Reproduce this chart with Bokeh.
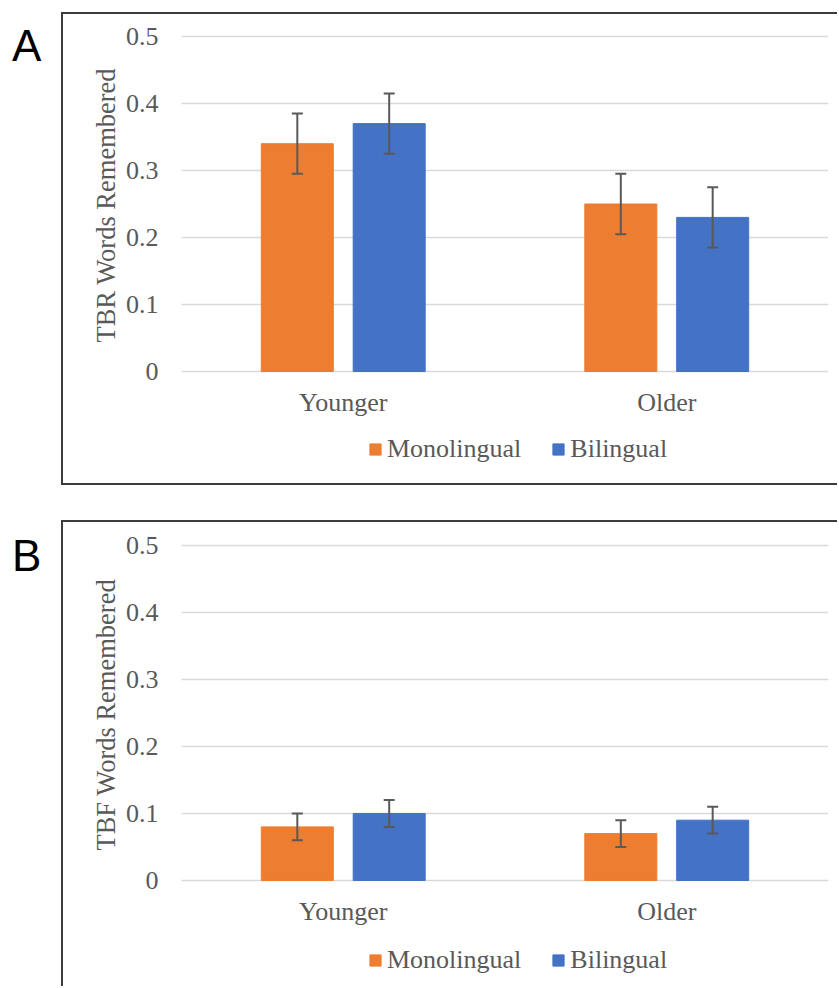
from bokeh.plotting import figure
from bokeh.models import (ColumnDataSource, Range1d, FactorRange, FixedTicker, Legend,
                          LegendItem, Whisker, TeeHead, Div, Title)
from bokeh.transform import dodge
from bokeh.layouts import row, column
from bokeh.embed import file_html
from bokeh.resources import INLINE

# ---- data ----
groups = ["Younger", "Older"]
series = ["Monolingual", "Bilingual"]
y_ticks = [0, 0.1, 0.2, 0.3, 0.4, 0.5]
y_tick_labels = ["0", "0.1", "0.2", "0.3", "0.4", "0.5"]

tbr_mono = [0.34, 0.25]
tbr_mono_err = [0.045, 0.045]
tbr_bi = [0.37, 0.23]
tbr_bi_err = [0.045, 0.045]

tbf_mono = [0.08, 0.07]
tbf_mono_err = [0.02, 0.02]
tbf_bi = [0.10, 0.09]
tbf_bi_err = [0.02, 0.02]

ORANGE = "#ED7D31"
BLUE = "#4472C4"
TXT = "#595959"
SERIF = "Liberation Serif"
BORDER = "2px solid #3c3c3c"


def make_panel(ytitle, mono, mono_err, bi, bi_err, canvas_h, min_top, min_bottom,
               y_lo, legend_vy, title_offset, styles):
    src = ColumnDataSource(dict(
        group=groups,
        mono=mono, bi=bi,
        mono_lo=[v - e for v, e in zip(mono, mono_err)],
        mono_hi=[v + e for v, e in zip(mono, mono_err)],
        bi_lo=[v - e for v, e in zip(bi, bi_err)],
        bi_hi=[v + e for v, e in zip(bi, bi_err)],
    ))
    p = figure(x_range=FactorRange(factors=groups), y_range=Range1d(y_lo, 0.503),
               width=776, height=canvas_h, output_backend="svg", toolbar_location=None,
               min_border_left=118, min_border_right=11, min_border_top=min_top,
               min_border_bottom=min_bottom)
    p.styles = styles
    p.outline_line_color = None
    p.background_fill_color = "white"
    p.border_fill_color = "white"

    off = 0.142
    bw = 0.2226
    r1 = p.vbar(x=dodge("group", -off, range=p.x_range), top="mono", width=bw, source=src,
                fill_color=ORANGE, line_color=ORANGE)
    r2 = p.vbar(x=dodge("group", off, range=p.x_range), top="bi", width=bw, source=src,
                fill_color=BLUE, line_color=BLUE)

    for col, o in (("mono", -off), ("bi", off)):
        w = Whisker(base=dodge("group", o, range=p.x_range), upper=col + "_hi",
                    lower=col + "_lo", source=src, line_color="#595959", line_width=2,
                    level="overlay",
                    upper_head=TeeHead(size=11, line_color="#595959", line_width=2),
                    lower_head=TeeHead(size=11, line_color="#595959", line_width=2))
        p.add_layout(w)

    # grid
    p.xgrid.grid_line_color = None
    p.ygrid.grid_line_color = "#d9d9d9"
    p.ygrid.grid_line_width = 1.4

    # y axis
    p.yaxis.ticker = FixedTicker(ticks=y_ticks)
    p.yaxis.major_label_overrides = {t: l for t, l in zip(y_ticks, y_tick_labels)}
    p.yaxis.axis_line_color = None
    p.yaxis.major_tick_line_color = None
    p.yaxis.minor_tick_line_color = None
    p.yaxis.major_tick_out = 0
    p.yaxis.major_tick_in = 0
    p.yaxis.major_label_standoff = 23
    p.yaxis.major_label_text_font = SERIF
    p.yaxis.major_label_text_font_size = "26px"
    p.yaxis.major_label_text_color = TXT

    # y axis title (placed along the 0..0.5 part of the frame)
    t = Title(text=ytitle, align="left", offset=title_offset, standoff=4,
              text_font=SERIF, text_font_size="26.5px", text_font_style="normal",
              text_color=TXT)
    p.add_layout(t, "left")

    # x axis sits at y = 0
    p.xaxis.fixed_location = 0
    p.xaxis.axis_line_color = None
    p.xaxis.major_tick_line_color = None
    p.xaxis.major_tick_out = 0
    p.xaxis.major_tick_in = 0
    p.xaxis.major_label_standoff = 17
    p.xaxis.major_label_text_font = SERIF
    p.xaxis.major_label_text_font_size = "26px"
    p.xaxis.major_label_text_color = TXT

    legend = Legend(items=[LegendItem(label=series[0], renderers=[r1]),
                           LegendItem(label=series[1], renderers=[r2])],
                    orientation="horizontal", location=(187, legend_vy),
                    glyph_width=14, glyph_height=14, label_standoff=5, spacing=30,
                    padding=0, margin=0, border_line_color=None, background_fill_alpha=0,
                    label_text_font=SERIF, label_text_font_size="26px",
                    label_text_color=TXT)
    p.add_layout(legend)
    return p


pA = make_panel("TBR Words Remembered", tbr_mono, tbr_mono_err, tbr_bi, tbr_bi_err,
                canvas_h=473, min_top=20, min_bottom=7, y_lo=-0.1627, legend_vy=16,
                title_offset=138,
                styles={"border-top": BORDER, "border-left": BORDER, "border-bottom": BORDER})
pA.margin = (12, 0, 0, 0)

pB = make_panel("TBF Words Remembered", tbf_mono, tbf_mono_err, tbf_bi, tbf_bi_err,
                canvas_h=466, min_top=21, min_bottom=8, y_lo=-0.1493, legend_vy=5,
                title_offset=130,
                styles={"border-top": BORDER, "border-left": BORDER})
pB.margin = (35, 0, 0, 0)

lab_style = {"font-family": "Liberation Sans, Arial, sans-serif", "font-size": "44px",
             "line-height": "44px", "color": "black"}
dA = Div(text="A", width=49, height=44, styles=lab_style, margin=(24, 0, 0, 12))
dB = Div(text="B", width=49, height=44, styles=lab_style, margin=(49, 0, 0, 12))

layout = column(row(dA, pA), row(dB, pB))

open("out.html", "w").write(file_html(layout, INLINE))
